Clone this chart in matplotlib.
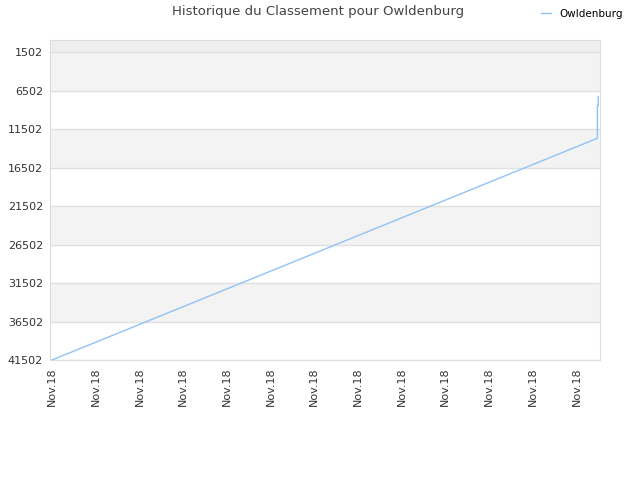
import matplotlib
matplotlib.use("Agg")
import matplotlib.pyplot as plt

# rank history (x = days since start)
days = [0.0, 12.48, 12.48, 12.5, 12.5]
ranks = [41502, 12710, 8450, 8450, 7280]
yticks = [1502, 6502, 11502, 16502, 21502, 26502, 31502, 36502, 41502]
xticks = list(range(13))
xlabels = ["Nov.18"] * 13

fig = plt.figure(figsize=(6.4, 4.8), dpi=100)
ax = fig.add_axes([50/640, 1-360/480, 550/640, 320/480])

top = 1502 - 5000*12/38.5
# alternating bands
ax.axhspan(1502, top, color="#eeeeee", zorder=0, lw=0)
for i in range(len(yticks)-1):
    if i % 2 == 0:
        ax.axhspan(yticks[i], yticks[i+1], color="#f3f3f3", zorder=0, lw=0)

ax.plot(days, ranks, color="#90c3f4", lw=1.0, zorder=3, label="Owldenburg")

ax.set_ylim(41502, top)
ax.set_xlim(-0.046, 12.54)
ax.set_yticks(yticks)
ax.set_yticklabels([str(v) for v in yticks])
ax.set_xticks(xticks)
ax.set_xticklabels(xlabels, rotation=90)
ax.grid(axis="y", color="#e0e0e0", lw=1, zorder=1)
ax.tick_params(length=0, labelsize=8, labelcolor="#333333", pad=5)
for s in ax.spines.values():
    s.set_color("#dddddd")

fig.suptitle("Historique du Classement pour Owldenburg", x=318/640, y=1-12/480,
             va="center", fontsize=9.5, color="#444444")
fig.legend(loc="center", bbox_to_anchor=(582/640, 1-14/480), frameon=False,
           fontsize=7.5, handlelength=1.0, handletextpad=0.8)

fig.savefig("out.png", dpi=100)
